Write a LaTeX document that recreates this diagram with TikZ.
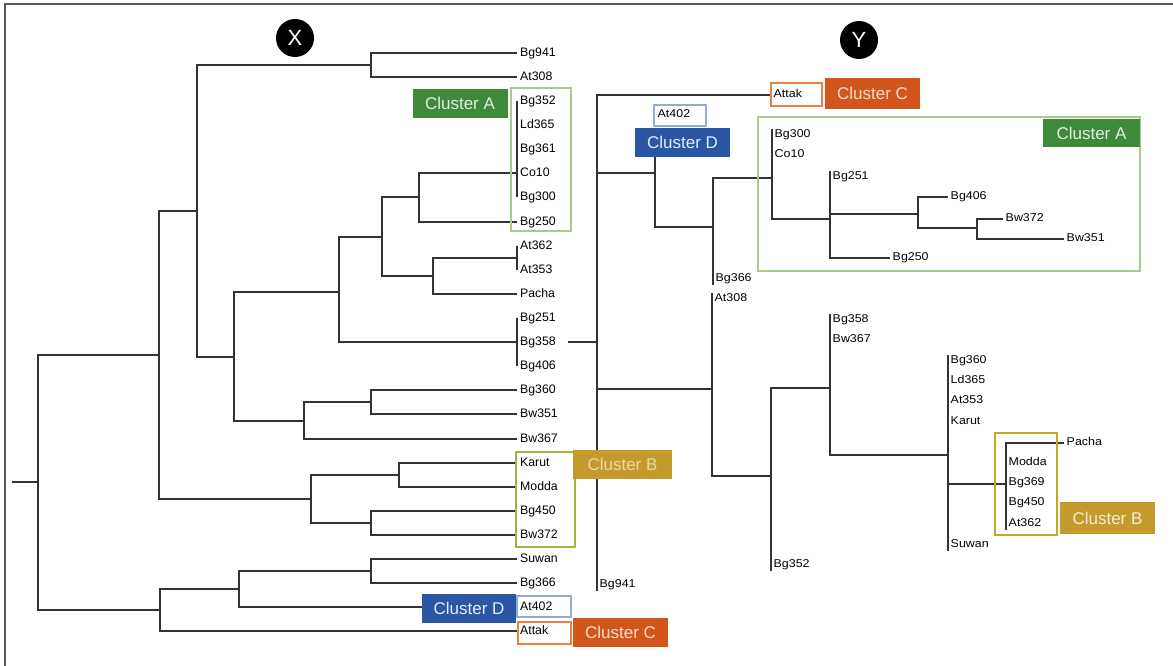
\documentclass[tikz,border=0pt]{standalone}
\usepackage{fontspec}
\setmainfont{Liberation Sans}
\newfontfamily\wideleaf[FakeStretch=1.1]{Liberation Sans}
\usepackage{tikz}

\definecolor{treeline}{HTML}{333333}
\definecolor{clgreen}{HTML}{3E8A3A}
\definecolor{clgreenline}{HTML}{A9C98F}
\definecolor{clgold}{HTML}{C49A2C}
\definecolor{clgoldline}{HTML}{C4A824}
\definecolor{clolive}{HTML}{A9B33A}
\definecolor{clorange}{HTML}{D2561C}
\definecolor{clorangeline}{HTML}{E8823C}
\definecolor{clblue}{HTML}{2B56A3}
\definecolor{clblueline}{HTML}{93AAD9}

\tikzset{
  branch/.style={draw=treeline, line width=1.1pt},
  leaf/.style={anchor=west, inner xsep=3pt, inner ysep=1pt, text height=8.7pt, text depth=2.5pt, font=\fontsize{12.3}{12}\selectfont},
  rleaf/.style={anchor=west, inner xsep=2.5pt, inner ysep=1pt, text height=8.2pt, text depth=2.3pt, font=\wideleaf\fontsize{11.3}{11}\selectfont},
  cluster/.style={minimum width=95pt, minimum height=29pt, inner sep=0pt, font=\fontsize{17}{17}\selectfont},
  treemark/.style={circle, fill=black, text=white, minimum size=38pt, inner sep=0pt, font=\fontsize{22}{22}\selectfont},
}

\begin{document}
\begin{tikzpicture}[x=1pt, y=-1pt]
	\useasboundingbox (0,0) rectangle (1173,666);
	\draw[gray!70!black, line width=1.5pt] (5,666) -- (5,4) -- (1173,4);

	% tree X
	\foreach \name/\y in {Bg941/53, At308/77, Bg352/101, Ld365/125, Bg361/149, Co10/173,
		Bg300/197, Bg250/222, At362/246, At353/270, Pacha/294, Bg251/318, Bg358/342,
		Bg406/366, Bg360/390, Bw351/414, Bw367/439, Karut/463, Modda/487, Bg450/511,
		Bw372/535, Suwan/559, Bg366/583, At402/607, Attak/631} {
		\node[leaf] (x\name) at (517,\y) {\name};
	}
	\coordinate (xstub) at (12,482);
	\coordinate (xr) at (38,482);
	\coordinate (xa) at (159,355);
	\coordinate (xb) at (197,211);
	\coordinate (xc) at (371,65);
	\coordinate (xd) at (234,357);
	\coordinate (xe) at (339,292);
	\coordinate (xf) at (382,237);
	\coordinate (xg) at (419,197);
	\coordinate (xh) at (433,276);
	\coordinate (xpAt) at (517,258);
	\coordinate (xi) at (304,421);
	\coordinate (xj) at (371,402);
	\coordinate (xk) at (311,499);
	\coordinate (xl) at (399,475);
	\coordinate (xn) at (371,523);
	\coordinate (xm) at (160,610);
	\coordinate (xo) at (239,589);
	\coordinate (xq) at (371,571);

	\draw[branch] (xstub) -- (xr);
	\foreach \s/\t in {xr/xa, xr/xm, xa/xb, xa/xk, xb/xc, xb/xd, xd/xe, xd/xi, xe/xf,
		xf/xg, xf/xh, xh/xpAt, xi/xj, xk/xl, xk/xn, xm/xo, xo/xq} {
		\draw[branch] (\s) |- (\t);
	}
	\foreach \s/\t in {xc/xBg941, xc/xAt308, xg/xCo10, xg/xBg250, xh/xPacha, xe/xBg358,
		xi/xBw367, xj/xBg360, xj/xBw351, xl/xKarut, xl/xModda, xn/xBg450, xn/xBw372,
		xq/xSuwan, xq/xBg366, xo/xAt402, xm/xAttak} {
		\draw[branch] (\s) |- (\t.west);
	}
	\foreach \s/\t in {xBg352/xBg300, xAt362/xAt353, xBg251/xBg406} {
		\draw[branch] (\s.west) -- (\t.west);
	}

	% tree Y
	\foreach \name/\x/\y in {Attak/771/95, At402/655/115, Bg300/772/135, Co10/772/155,
		Bg251/830/177, Bg406/948/197, Bw372/1003/219, Bw351/1064/239, Bg250/890/258,
		Bg366/713/279, At308/712/299, Bg358/830/320, Bw367/830/340, Bg360/948/361,
		Ld365/948/381, At353/948/401, Karut/948/422, Pacha/1064/443, Modda/1006/463,
		Bg369/1006/483, Bg450/1006/503, At362/1006/524, Suwan/948/545, Bg352/771/565,
		Bg941/597/585} {
		\node[rleaf] (y\name) at (\x,\y) {\name};
	}
	\coordinate (ystub) at (568,342);
	\coordinate (yr) at (597,342);
	\coordinate (yd) at (655,173);
	\coordinate (yDbox) at (655,128);
	\coordinate (yf) at (713,227);
	\coordinate (yh) at (772,178);
	\coordinate (yi) at (830,219);
	\coordinate (yj) at (918,214);
	\coordinate (yk) at (977,228);
	\coordinate (yg) at (712,389);
	\coordinate (yl) at (771,476);
	\coordinate (ym) at (830,388);
	\coordinate (yn) at (948,455);
	\coordinate (yo) at (1006,484);

	\draw[branch] (ystub) -- (yr);
	\foreach \s/\t in {yr/yd, yr/yg, yd/yf, yf/yh, yh/yi, yi/yj, yj/yk, yg/yl, yl/ym,
		ym/yn, yn/yo} {
		\draw[branch] (\s) |- (\t);
	}
	\foreach \s/\t in {yr/yAttak, yi/yBg250, yj/yBg406, yk/yBw372, yk/yBw351, yo/yPacha} {
		\draw[branch] (\s) |- (\t.west);
	}
	\foreach \s/\t in {yr/yBg941.south, yd/yDbox, yf/yBg366.south, yh/yBg300.north,
		yi/yBg251.north, yg/yAt308.north, yl/yBg352.south, ym/yBg358.north,
		yn/yBg360.north, yn/ySuwan.south, yo/yAt362.south} {
		\draw[branch] (\s) -- (\s |- \t);
	}

	% cluster frames
	\draw[clgreenline, line width=1.3pt] (511,88) rectangle (571,231);
	\draw[clolive, line width=1.6pt] (516,452) rectangle (575,547);
	\draw[clblueline, line width=1.3pt] (517,596) rectangle (571,617);
	\draw[clorangeline, line width=1.6pt] (518,622) rectangle (571,644);
	\draw[clorangeline, line width=1.6pt] (771,83) rectangle (822,106);
	\draw[clblueline, line width=1.3pt] (654,105) rectangle (706,126);
	\draw[clgreenline, line width=1.3pt] (758,117) rectangle (1140,271);
	\draw[clgoldline, line width=1.8pt] (995,433) rectangle (1057,535);

	\node[cluster, fill=clgreen, text=clgreen!15] (xclA) at (460,103.5) {Cluster A};
	\node[cluster, fill=clgold, text=clgold!40, minimum width=99pt] (xclB) at (622.5,464.5) {Cluster B};
	\node[cluster, fill=clblue, text=clblue!12, minimum width=94pt] (xclD) at (469,608.5) {Cluster D};
	\node[cluster, fill=clorange, text=clorange!20] (xclC) at (620.5,632.5) {Cluster C};
	\node[cluster, fill=clorange, text=clorange!20, minimum height=31pt] (yclC) at (872.5,93.5) {Cluster C};
	\node[cluster, fill=clblue, text=clblue!12] (yclD) at (682.5,142.5) {Cluster D};
	\node[cluster, fill=clgreen, text=clgreen!15, minimum width=97pt, minimum height=28pt] (yclA) at (1091.5,133) {Cluster A};
	\node[cluster, fill=clgold, text=clgold!20, minimum height=32pt] (yclB) at (1107.5,518) {Cluster B};

	\node[treemark] (X) at (295,38) {X};
	\node[treemark] (Y) at (859,40) {Y};
\end{tikzpicture}
\end{document}
